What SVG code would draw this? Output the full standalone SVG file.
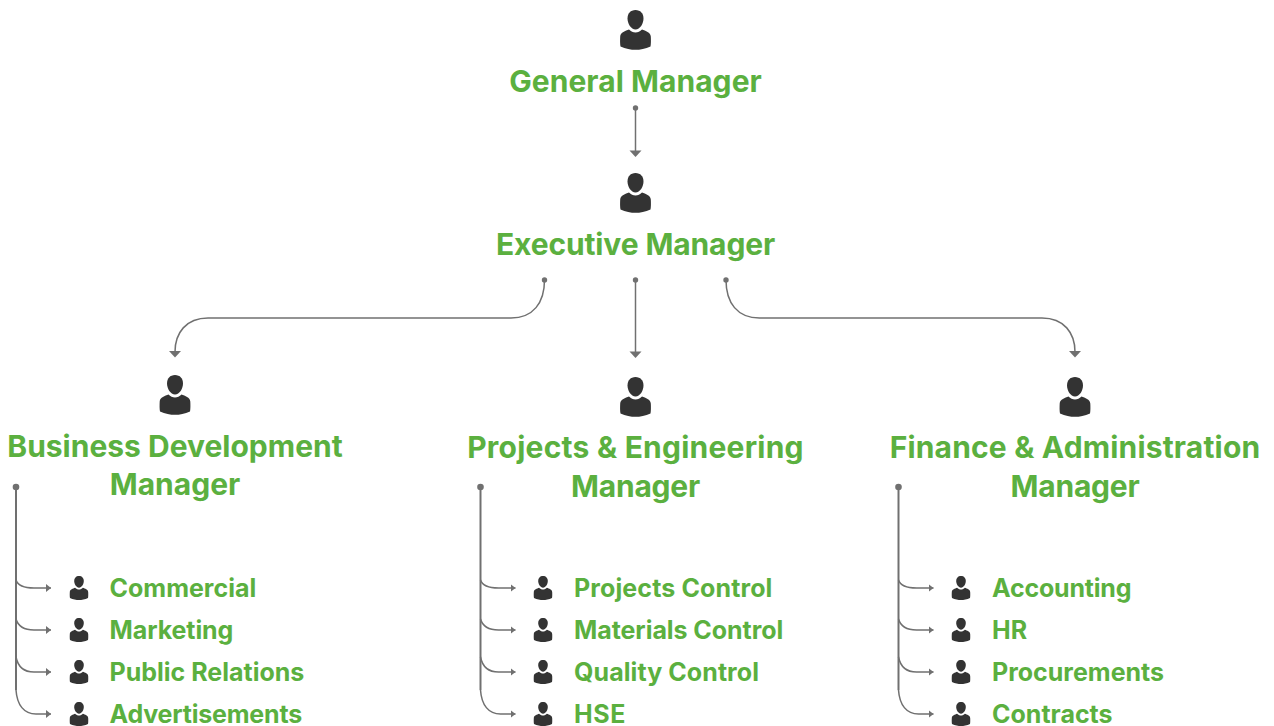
<svg xmlns="http://www.w3.org/2000/svg" width="1274" height="726" viewBox="0 0 1274 726">
<style>
text{font-family:Inter,"Liberation Sans",sans-serif;font-weight:700;fill:#5bb03f}
.t{font-size:30px;text-anchor:middle}
.s{font-size:25px}
.c{fill:none;stroke:#707070;stroke-width:1.500}
.b{fill:none;stroke:#707070;stroke-width:2}
.d{fill:#707070}
</style>
<defs>
<symbol id="p" overflow="visible"><path fill="#333" d="M0 0C5 0 8 3.500 8 8.500C8 13.500 4.500 19.500 0 19.500C-4.500 19.500 -8 13.500 -8 8.500C-8 3.500 -5 0 0 0Z"/><path fill="#333" d="M-6.500 19.500C-4.500 21.500 -2.500 22.500 0 22.500C2.500 22.500 4.500 21.500 6.500 19.500C10 21 15 22 15.300 26.500C15.500 30 15.500 34 15 36.500C10 39 4.500 39.800 0 39.800C-4.500 39.800 -10 39 -15 36.500C-15.500 34 -15.500 30 -15.300 26.500C-15 22 -10 21 -6.500 19.500Z"/></symbol>
<marker id="m" markerUnits="userSpaceOnUse" markerWidth="7" markerHeight="8" refX="5" refY="4" orient="auto" viewBox="0 0 7 8"><path d="M0 0L5 4L0 8Z" fill="#707070"/></marker>
</defs>
<g id="connectors">
<g id="main-links">
<circle class="d" cx="635.500" cy="108" r="2.700"/><path class="c" d="M635.500 108V152"/><path class="d" d="M629.500 150.500H641.500L635.500 157Z"/>
<circle class="d" cx="544.500" cy="280" r="2.700"/><path class="c" d="M544.500 280C544.500 303 533 318 511 318H208C186 318 175 333 175 352"/><path class="d" d="M169 351H181L175 357.500Z"/>
<circle class="d" cx="635.500" cy="280" r="2.700"/><path class="c" d="M635.500 280V353"/><path class="d" d="M629.500 351.500H641.500L635.500 358Z"/>
<circle class="d" cx="726" cy="280" r="2.700"/><path class="c" d="M726 280C726 303 737.500 318 759.500 318H1042C1064 318 1075 333 1075 352"/><path class="d" d="M1069 351H1081L1075 357.500Z"/>
</g>
<g id="bd-links">
<circle class="d" cx="16" cy="487" r="3.300"/><path class="b" d="M16 487V690"/>
<path class="c" marker-end="url(#m)" d="M16 580C18 586 24 588 34 588H51"/>
<path class="c" marker-end="url(#m)" d="M16 619C18 626 24 630 34 630H51"/>
<path class="c" marker-end="url(#m)" d="M16 657C18 667 24 672 34 672H51"/>
<path class="c" marker-end="url(#m)" d="M16 690C17 705 24 714 36 714H51"/>
</g>
<g id="pe-links">
<circle class="d" cx="480.500" cy="487" r="3.300"/><path class="b" d="M480.500 487V690"/>
<path class="c" marker-end="url(#m)" d="M480.500 580C482.500 586 488.500 588 498.500 588H515.500"/>
<path class="c" marker-end="url(#m)" d="M480.500 619C482.500 626 488.500 630 498.500 630H515.500"/>
<path class="c" marker-end="url(#m)" d="M480.500 657C482.500 667 488.500 672 498.500 672H515.500"/>
<path class="c" marker-end="url(#m)" d="M480.500 690C481.500 705 488.500 714 500.500 714H515.500"/>
</g>
<g id="fa-links">
<circle class="d" cx="898.500" cy="487" r="3.300"/><path class="b" d="M898.500 487V690"/>
<path class="c" marker-end="url(#m)" d="M898.500 580C900.500 586 906.500 588 916.500 588H933.500"/>
<path class="c" marker-end="url(#m)" d="M898.500 619C900.500 626 906.500 630 916.500 630H933.500"/>
<path class="c" marker-end="url(#m)" d="M898.500 657C900.500 667 906.500 672 916.500 672H933.500"/>
<path class="c" marker-end="url(#m)" d="M898.500 690C899.500 705 906.500 714 918.500 714H933.500"/>
</g>
</g>
<g id="general-manager"><use href="#p" x="635.500" y="10"/><text class="t" x="635.500" y="92" letter-spacing=".05">General Manager</text></g>
<g id="executive-manager"><use href="#p" x="635.500" y="173"/><text class="t" x="635.500" y="255" letter-spacing="-.12">Executive Manager</text></g>
<g id="business-development-manager"><use href="#p" x="175" y="375"/><text class="t" x="175" y="457">Business Development</text><text class="t" x="175" y="495">Manager</text></g>
<g id="projects-engineering-manager"><use href="#p" x="635.500" y="377"/><text class="t" x="635.500" y="458" letter-spacing=".23">Projects &amp; Engineering</text><text class="t" x="635.500" y="497" letter-spacing="-.2">Manager</text></g>
<g id="finance-administration-manager"><use href="#p" x="1075" y="377"/><text class="t" x="1075" y="458" letter-spacing=".17">Finance &amp; Administration</text><text class="t" x="1075" y="497" letter-spacing="-.2">Manager</text></g>
<g id="commercial"><use href="#p" transform="translate(79 576) scale(.6)"/><text class="s" x="109.500" y="597">Commercial</text></g>
<g id="marketing"><use href="#p" transform="translate(79 618) scale(.6)"/><text class="s" x="109.500" y="639" letter-spacing="-.08">Marketing</text></g>
<g id="public-relations"><use href="#p" transform="translate(79 660) scale(.6)"/><text class="s" x="109.500" y="681">Public Relations</text></g>
<g id="advertisements"><use href="#p" transform="translate(79 702) scale(.6)"/><text class="s" x="109.500" y="722.500" letter-spacing="-.2">Advertisements</text></g>
<g id="projects-control"><use href="#p" transform="translate(543 576) scale(.6)"/><text class="s" x="574" y="597" letter-spacing=".12">Projects Control</text></g>
<g id="materials-control"><use href="#p" transform="translate(543 618) scale(.6)"/><text class="s" x="574" y="639" letter-spacing="-.06">Materials Control</text></g>
<g id="quality-control"><use href="#p" transform="translate(543 660) scale(.6)"/><text class="s" x="574" y="681" letter-spacing=".07">Quality Control</text></g>
<g id="hse"><use href="#p" transform="translate(543 702) scale(.6)"/><text class="s" x="574" y="722.500" letter-spacing=".6">HSE</text></g>
<g id="accounting"><use href="#p" transform="translate(961 576) scale(.6)"/><text class="s" x="992" y="597" letter-spacing="-.2">Accounting</text></g>
<g id="hr"><use href="#p" transform="translate(961 618) scale(.6)"/><text class="s" x="992" y="639">HR</text></g>
<g id="procurements"><use href="#p" transform="translate(961 660) scale(.6)"/><text class="s" x="992" y="681">Procurements</text></g>
<g id="contracts"><use href="#p" transform="translate(961 702) scale(.6)"/><text class="s" x="992" y="722.500">Contracts</text></g>
</svg>
